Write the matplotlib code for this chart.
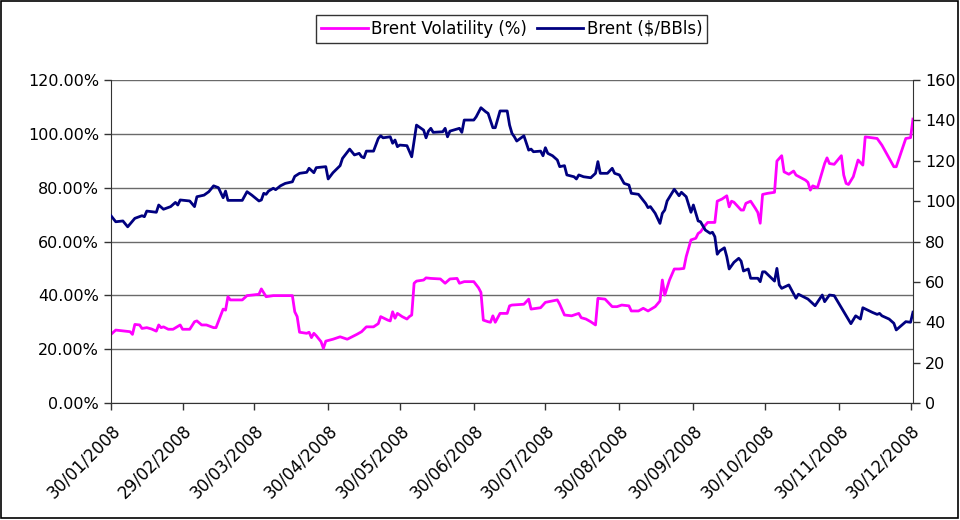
import numpy as np
import pandas as pd
import matplotlib
matplotlib.use('Agg')
import matplotlib.pyplot as plt
from matplotlib.patches import Rectangle

plt.rcParams['font.family'] = ['DejaVu Sans']

# day of year 2008 (1 = 1 Jan) and values
brent_day = [30, 32, 35, 37, 40, 43, 44, 45, 49, 50, 52, 55, 57, 58, 59, 63, 65, 66, 69, 71,
             73, 75, 77, 78, 79, 85, 87, 89, 92, 93, 94, 95, 96, 98, 99, 101, 103, 106, 107, 109,
             112, 113, 115, 116, 120, 121, 123, 126, 127, 130, 132, 134, 135, 136, 137, 140, 142, 143, 144, 147,
             148, 149, 150, 151, 154, 156, 158, 161, 162, 163, 164, 165, 169, 170, 171, 172, 176, 177, 178, 182,
             183, 185, 187, 188, 190, 191, 193, 196, 197, 198, 199, 200, 203, 205, 206, 207, 210, 211, 212, 213,
             215, 217, 218, 220, 221, 224, 225, 226, 228, 231, 233, 234, 235, 238, 240, 241, 243, 245, 247, 248,
             251, 254, 255, 256, 258, 260, 261, 262, 263, 266, 268, 269, 271, 273, 274, 276, 277, 279, 281, 282,
             283, 284, 285, 287, 288, 289, 291, 293, 294, 295, 297, 298, 301, 302, 303, 304, 308, 309, 310, 311,
             314, 317, 318, 322, 325, 328, 329, 331, 333, 337, 340, 342, 344, 345, 349, 351, 352, 353, 356, 358,
             359, 363, 365, 366]
brent_price = [92.8, 89.8, 90.2, 87.3, 91.5, 92.8, 92.3, 95.1, 94.5, 98.1, 96.0, 97.3, 99.4, 98.1, 100.6, 100.1, 97.3, 102.2, 103.0, 104.7,
               107.6, 106.7, 101.7, 105.0, 100.4, 100.4, 104.7, 103.0, 100.1, 100.6, 103.9, 103.4, 105.0, 106.4, 105.7, 107.6, 108.8, 109.6, 112.3, 113.8,
               114.3, 116.3, 114.1, 116.6, 117.1, 111.0, 114.1, 117.6, 121.2, 125.8, 122.9, 123.7, 122.0, 121.5, 124.8, 124.8, 131.1, 132.4, 131.4, 131.9,
               128.7, 130.3, 127.0, 127.8, 127.5, 122.0, 137.7, 135.2, 131.4, 134.7, 136.1, 134.1, 134.4, 136.1, 131.9, 134.7, 136.1, 134.1, 140.2, 140.2,
               141.8, 146.3, 144.3, 143.5, 136.4, 136.4, 144.7, 144.7, 137.7, 133.6, 131.9, 129.8, 132.4, 125.3, 125.8, 124.5, 124.8, 122.5, 126.5, 123.7,
               122.5, 120.4, 117.1, 117.6, 113.0, 112.1, 111.0, 113.0, 112.1, 111.6, 113.8, 119.6, 113.8, 113.8, 116.3, 113.8, 113.0, 108.8, 108.0, 103.9,
               103.4, 98.9, 96.8, 97.3, 94.0, 89.0, 94.0, 95.6, 100.1, 105.9, 102.7, 104.4, 102.2, 94.5, 98.1, 90.2, 89.8, 85.7, 84.1, 84.6,
               82.4, 73.7, 75.3, 76.9, 72.5, 66.4, 69.7, 71.7, 70.3, 65.4, 66.4, 61.8, 61.8, 60.1, 65.0, 65.0, 60.4, 66.7, 58.5, 56.8,
               58.5, 51.9, 53.9, 51.5, 48.2, 53.5, 50.2, 53.5, 53.2, 45.2, 39.3, 43.2, 41.6, 47.2, 44.9, 43.9, 44.4, 43.2, 41.6, 39.5,
               36.2, 40.3, 40.0, 45.0]

vol_day = [30, 32, 36, 38, 39, 40, 42, 43, 45, 47, 49, 50, 51, 52, 54, 56, 59, 60, 63, 65,
           66, 68, 70, 73, 74, 77, 78, 79, 80, 85, 87, 92, 93, 95, 98, 106, 107, 108, 109, 112,
           113, 114, 115, 116, 118, 119, 120, 123, 126, 129, 133, 135, 137, 140, 142, 143, 146, 147, 148, 149,
           150, 152, 154, 155, 156, 157, 158, 161, 162, 164, 168, 170, 172, 175, 176, 178, 182, 184, 185, 186,
           188, 189, 190, 191, 193, 196, 197, 198, 203, 205, 206, 210, 212, 217, 218, 220, 223, 226, 227, 229,
           231, 233, 234, 237, 240, 242, 244, 247, 248, 251, 253, 255, 258, 260, 261, 262, 264, 266, 268, 270,
           271, 273, 275, 276, 277, 279, 280, 283, 284, 286, 288, 289, 290, 291, 294, 295, 296, 298, 300, 301,
           302, 303, 305, 308, 309, 311, 312, 314, 316, 317, 321, 322, 323, 324, 326, 329, 330, 331, 333, 336,
           337, 338, 339, 341, 343, 345, 346, 351, 353, 358, 359, 363, 365, 366]
vol_pct = [25.5, 27.1, 26.7, 26.5, 25.5, 29.2, 29.0, 27.7, 28.0, 27.5, 26.7, 29.0, 28.0, 28.3, 27.4, 27.4, 29.0, 27.4, 27.4, 30.2,
           30.5, 29.0, 29.0, 28.0, 28.0, 34.9, 34.5, 39.5, 38.3, 38.3, 39.9, 40.4, 42.4, 39.5, 39.9, 39.9, 33.9, 32.1, 26.3, 25.9,
           26.3, 24.3, 25.9, 25.0, 22.8, 20.3, 23.0, 23.7, 24.6, 23.7, 25.5, 26.5, 28.3, 28.3, 29.5, 32.1, 30.8, 30.5, 33.9, 31.5,
           33.3, 32.1, 31.2, 32.1, 32.7, 44.5, 45.3, 45.7, 46.5, 46.3, 46.1, 44.5, 46.1, 46.3, 44.5, 45.1, 45.1, 42.8, 41.1, 30.8,
           30.2, 30.0, 32.4, 30.0, 33.3, 33.3, 36.1, 36.4, 36.7, 38.6, 34.9, 35.4, 37.4, 38.3, 36.7, 32.7, 32.4, 33.3, 31.7, 31.2,
           30.2, 29.0, 38.9, 38.6, 35.8, 35.8, 36.4, 36.1, 34.2, 34.2, 35.2, 34.2, 35.8, 37.9, 45.7, 40.1, 45.7, 49.8, 49.8, 50.0,
           54.4, 60.6, 61.2, 63.0, 63.6, 66.1, 67.1, 67.1, 75.0, 75.8, 77.0, 72.9, 75.0, 74.6, 71.7, 71.7, 74.2, 75.0, 72.3, 70.8,
           66.8, 77.5, 77.9, 78.3, 89.9, 91.9, 85.9, 85.0, 86.2, 84.7, 82.8, 82.0, 79.1, 80.7, 80.0, 89.0, 91.1, 89.0, 88.7, 91.9,
           84.7, 81.6, 81.2, 84.1, 90.3, 88.4, 98.9, 98.3, 95.8, 87.8, 87.8, 98.3, 98.6, 105.5]

tick_dates = ['2008-01-30', '2008-02-29', '2008-03-30', '2008-04-30', '2008-05-30', '2008-06-30',
              '2008-07-30', '2008-08-30', '2008-09-30', '2008-10-30', '2008-11-30', '2008-12-30']


def to_date(days):
    return pd.Timestamp('2008-01-01') + pd.to_timedelta(np.array(days) - 1, unit='D')


fig = plt.figure(figsize=(9.6, 5.2), dpi=100)
ax = fig.add_axes([0.1156, 0.225, 0.8354, 0.621])
ax2 = ax.twinx()

l1, = ax.plot(to_date(vol_day), np.array(vol_pct) / 100, color='#FF00FF', lw=2, label='Brent Volatility (%)')
l2, = ax2.plot(to_date(brent_day), brent_price, color='#000080', lw=2, label='Brent ($/BBls)')

ax.set_ylim(0, 1.2)
ax.set_yticks(np.arange(0, 1.21, 0.2))
ax.set_yticklabels([f'{v * 100:.2f}%' for v in np.arange(0, 1.21, 0.2)])
ax2.set_ylim(0, 160)
ax2.set_yticks(range(0, 161, 20))

ax.set_xlim(pd.Timestamp('2008-01-30'), pd.Timestamp('2008-12-31'))
ticks = pd.to_datetime(tick_dates)
ax.set_xticks(ticks)
ax.set_xticklabels([t.strftime('%d/%m/%Y') for t in ticks], rotation=45, ha='right', rotation_mode='anchor')

ax.grid(axis='y', color='#6a6a6a', lw=1)
ax.set_axisbelow(True)
for a in (ax, ax2):
    a.spines['top'].set_visible(False)
    a.tick_params(labelsize=11.5, color='#333333', length=5, width=1)
ax.tick_params(axis='x', labelsize=12, pad=8)
ax.spines['right'].set_visible(False)
ax2.spines['left'].set_visible(False)
ax.spines['left'].set_color('#333333')
ax.spines['bottom'].set_color('#333333')
ax2.spines['right'].set_color('#333333')
ax2.spines['bottom'].set_visible(False)

leg = fig.legend(handles=[l1, l2], loc='center', bbox_to_anchor=(0.533, 0.945), ncol=2,
                 fontsize=12, frameon=True, fancybox=False, edgecolor='black',
                 handlelength=2.8, handletextpad=0.2, columnspacing=0.6, borderpad=0.3)
leg.get_frame().set_linewidth(1)

fig.patches.append(Rectangle((0.001, 0.003), 0.997, 0.995, transform=fig.transFigure,
                             fill=False, edgecolor='black', lw=1.2))

fig.savefig('out.png', dpi=100)
